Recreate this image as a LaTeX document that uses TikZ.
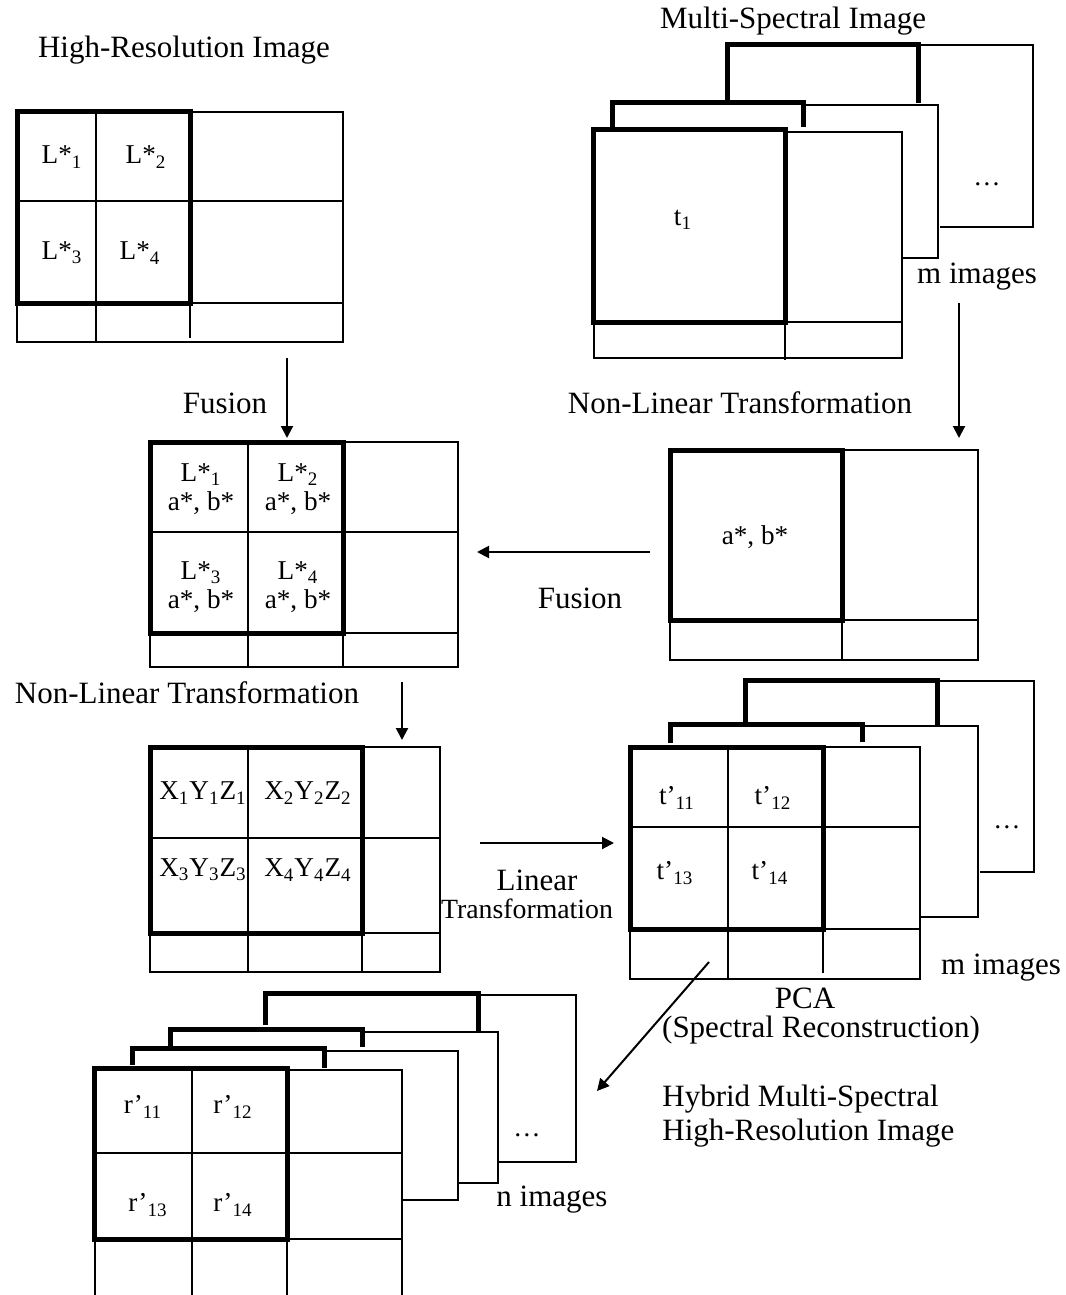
\documentclass[tikz,border=0pt]{standalone}
\usepackage{fontspec}
\setmainfont{Liberation Serif}
\usetikzlibrary{arrows.meta}
\begin{document}
\begin{tikzpicture}[x=0.5pt,y=-0.5pt,
  thinln/.style={line width=1pt},
  thickln/.style={line width=2.5pt},
  arr/.style={line width=1pt,-{Triangle[length=6pt,width=6pt]}},
  lbl/.style={inner sep=0pt,font=\fontsize{15.5}{18}\selectfont},
  cell/.style={inner sep=0pt,align=center,font=\fontsize{13.6}{14.6}\selectfont},
  smalllbl/.style={inner sep=0pt,font=\fontsize{13.9}{16}\selectfont}
]
\useasboundingbox (0,0) rectangle (1065,1295);

% ===== Block 1: High-Resolution Image =====
\draw[thinln] (17,112) rectangle (343,342);
\draw[thinln] (17,201) -- (343,201);
\draw[thinln] (17,303) -- (343,303);
\draw[thinln] (96,112) -- (96,342);
\draw[thinln] (190,303) -- (190,338);
\draw[thickln] (17,112) rectangle (190,303);
\node[lbl] (t1) at (184,50) {High-Resolution Image};
\node[cell] (b1c1) at (62,157) {L*\textsubscript{1}};
\node[cell] (b1c2) at (146,157) {L*\textsubscript{2}};
\node[cell] (b1c3) at (62,253) {L*\textsubscript{3}};
\node[cell] (b1c4) at (140,253) {L*\textsubscript{4}};

% ===== Block 2: Multi-Spectral stack (top right) =====
\node[lbl] (t2) at (793,21) {Multi-Spectral Image};
% back frame
\draw[thinln] (918,45) -- (1033,45) -- (1033,227) -- (940,227);
\draw[thickln] (727,100) -- (727,45) -- (918,45) -- (918,103);
% middle frame
\draw[thinln] (803,105) -- (938,105) -- (938,258) -- (902,258);
\draw[thickln] (612,128) -- (612,103) -- (803,103) -- (803,127);
% front frame
\draw[thinln] (785,132) -- (902,132) -- (902,358) -- (594,358) -- (594,322);
\draw[thinln] (785,322) -- (902,322);
\draw[thinln] (785,322) -- (785,360);
\draw[thickln] (593,130) rectangle (785,322);
\node[cell] (b2c1) at (683,220) {t\textsubscript{1}};
\node[cell] (b2dots) at (987,184) {\ldots};
\node[lbl] (b2m) at (977,277) {m images};

% ===== Arrow 1: Fusion (down) =====
\coordinate (a1s) at (287,358);
\coordinate (a1e) at (287,438);
\draw[arr] (a1s) -- (a1e);
\node[lbl] (f1) at (225,403) {Fusion};

% ===== Arrow 2: Non-Linear Transformation (down right) =====
\coordinate (a2s) at (959,303);
\coordinate (a2e) at (959,438);
\draw[arr] (a2s) -- (a2e);
\node[lbl] (nl1) at (740,403) {Non-Linear Transformation};

% ===== Block 3: fused L*a*b* (middle left) =====
\draw[thinln] (150,442) rectangle (458,667);
\draw[thinln] (150,532) -- (458,532);
\draw[thinln] (150,633) -- (458,633);
\draw[thinln] (248,442) -- (248,667);
\draw[thinln] (343,633) -- (343,667);
\draw[thickln] (150,442) rectangle (343,633);
\node[cell] (b3c1) at (201,489) {L*\textsubscript{1}\\a*, b*};
\node[cell] (b3c2) at (298,489) {L*\textsubscript{2}\\a*, b*};
\node[cell] (b3c3) at (201,587) {L*\textsubscript{3}\\a*, b*};
\node[cell] (b3c4) at (298,587) {L*\textsubscript{4}\\a*, b*};

% ===== Block 4: a*, b* (middle right) =====
\draw[thinln] (670,450) rectangle (978,660);
\draw[thinln] (670,620) -- (978,620);
\draw[thinln] (842,620) -- (842,660);
\draw[thickln] (670,450) rectangle (842,620);
\node[cell] (b4c1) at (755,537) {a*, b*};

% ===== Arrow 3: Fusion (left) =====
\coordinate (a3s) at (650,552);
\coordinate (a3e) at (477,552);
\draw[arr] (a3s) -- (a3e);
\node[lbl] (f2) at (580,598) {Fusion};

% ===== Arrow 4: Non-Linear Transformation (down left) =====
\coordinate (a4s) at (402,682);
\coordinate (a4e) at (402,740);
\draw[arr] (a4s) -- (a4e);
\node[lbl] (nl2) at (187,693) {Non-Linear Transformation};

% ===== Block 5: XYZ =====
\draw[thinln] (150,747) rectangle (440,972);
\draw[thinln] (150,838) -- (440,838);
\draw[thinln] (150,933) -- (440,933);
\draw[thinln] (248,747) -- (248,972);
\draw[thinln] (362,933) -- (362,972);
\draw[thickln] (150,747) rectangle (362,933);
\node[cell] (b5c1) at (203,793) {X\textsubscript{1}Y\textsubscript{1}Z\textsubscript{1}};
\node[cell] (b5c2) at (308,793) {X\textsubscript{2}Y\textsubscript{2}Z\textsubscript{2}};
\node[cell] (b5c3) at (203,870) {X\textsubscript{3}Y\textsubscript{3}Z\textsubscript{3}};
\node[cell] (b5c4) at (308,870) {X\textsubscript{4}Y\textsubscript{4}Z\textsubscript{4}};

% ===== Arrow 5: Linear Transformation =====
\coordinate (a5s) at (480,843);
\coordinate (a5e) at (614,843);
\draw[arr] (a5s) -- (a5e);
\node[lbl] (lin) at (537,880) {Linear};
\node[smalllbl] (lintr) at (527,909) {Transformation};

% ===== Block 6: t' stack (lower right) =====
\draw[thinln] (937,681) -- (1034,681) -- (1034,872) -- (980,872);
\draw[thickln] (745,722) -- (745,680) -- (937,680) -- (937,725);
\draw[thinln] (862,726) -- (978,726) -- (978,917) -- (921,917);
\draw[thickln] (670,743) -- (670,724) -- (862,724) -- (862,742);
\draw[thinln] (630,747) rectangle (920,979);
\draw[thinln] (630,827) -- (920,827);
\draw[thinln] (630,929) -- (920,929);
\draw[thinln] (728,747) -- (728,979);
\draw[thinln] (823,929) -- (823,973);
\draw[thickln] (630,747) rectangle (823,929);
\node[cell] (b6c1) at (677,798) {t’\textsubscript{11}};
\node[cell] (b6c2) at (773,798) {t’\textsubscript{12}};
\node[cell] (b6c3) at (675,873) {t’\textsubscript{13}};
\node[cell] (b6c4) at (770,873) {t’\textsubscript{14}};
\node[cell] (b6dots) at (1007,827) {\ldots};
\node[lbl] (b6m) at (1001,968) {m images};

% ===== Arrow 6: PCA =====
\coordinate (a6s) at (709,962);
\coordinate (a6e) at (597,1091);
\draw[arr] (a6s) -- (a6e);
\node[lbl] (pca) at (805,998) {PCA};
\node[lbl] (pca2) at (821,1030) {(Spectral Reconstruction)};
\node[lbl,anchor=west] (hy1) at (662,1099) {Hybrid Multi-Spectral};
\node[lbl,anchor=west] (hy2) at (662,1133) {High-Resolution Image};

% ===== Block 7: r' stack (bottom) =====
\draw[thinln] (478,995) -- (576,995) -- (576,1162) -- (498,1162);
\draw[thickln] (265,1025) -- (265,993) -- (478,993) -- (478,1032);
\draw[thinln] (362,1032) -- (498,1032) -- (498,1183) -- (459,1183);
\draw[thickln] (170,1050) -- (170,1029) -- (362,1029) -- (362,1047);
\draw[thinln] (324,1051) -- (458,1051) -- (458,1200) -- (403,1200);
\draw[thickln] (132,1065) -- (132,1048) -- (324,1048) -- (324,1068);
\draw[thinln] (287,1070) -- (402,1070) -- (402,1295);
\draw[thinln] (95,1239) -- (95,1295);
\draw[thinln] (192,1068) -- (192,1295);
\draw[thinln] (287,1239) -- (287,1295);
\draw[thinln] (94,1153) -- (402,1153);
\draw[thinln] (94,1239) -- (402,1239);
\draw[thickln] (94,1068) rectangle (287,1239);
\node[cell] (b7c1) at (143,1107) {r’\textsubscript{11}};
\node[cell] (b7c2) at (233,1107) {r’\textsubscript{12}};
\node[cell] (b7c3) at (148,1205) {r’\textsubscript{13}};
\node[cell] (b7c4) at (233,1205) {r’\textsubscript{14}};
\node[cell] (b7dots) at (527,1135) {\ldots};
\node[lbl,anchor=west] (b7n) at (496,1200) {n images};
\end{tikzpicture}
\end{document}
